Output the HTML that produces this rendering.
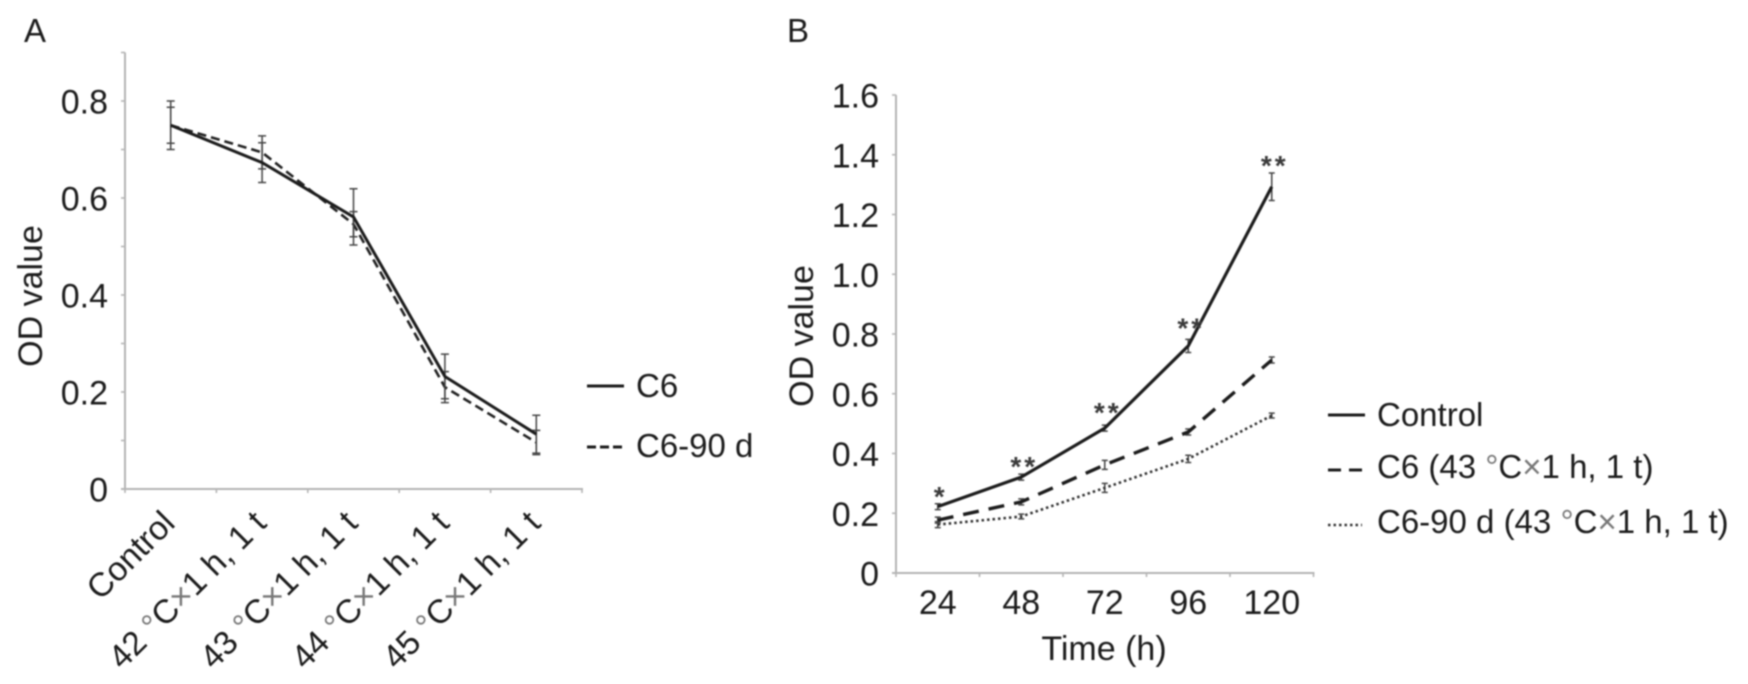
<!DOCTYPE html>
<html lang="en">
<head>
<meta charset="utf-8">
<title>OD value charts</title>
<style>
html,body{margin:0;padding:0;background:#fff;width:1748px;height:684px;overflow:hidden}
svg{display:block;filter:blur(0.7px)}
text{font-family:"Liberation Sans",Arial,sans-serif;fill:#1c1c1c;font-size:33px}
.g{fill:#777}
.big{font-size:34px}
</style>
</head>
<body>
<svg id="figure" xmlns="http://www.w3.org/2000/svg" width="1748" height="684" viewBox="0 0 1748 684">
  <g id="panel-a">
    <text x="24" y="42">A</text>
    <text class="big" transform="translate(42,296) rotate(-90)" text-anchor="middle">OD value</text>
    <g>
      <line x1="587" x2="624" y1="386" y2="386" stroke="#1c1c1c" stroke-width="3"/>
      <text x="636" y="397">C6</text>
      <line x1="587" x2="622" y1="447" y2="447" stroke="#1c1c1c" stroke-width="3" stroke-dasharray="9 4"/>
      <text x="636" y="457">C6-90 d</text>
    </g>
  </g>
  <g id="panel-b">
    <text x="787" y="42">B</text>
    <text class="big" transform="translate(813,336) rotate(-90)" text-anchor="middle">OD value</text>
    <text class="big" x="1104" y="660" text-anchor="middle">Time (h)</text>
    <g>
      <line x1="1328" x2="1365" y1="415" y2="415" stroke="#1c1c1c" stroke-width="3"/>
      <text x="1377" y="426">Control</text>
      <line x1="1328" x2="1362" y1="470" y2="470" stroke="#1c1c1c" stroke-width="3" stroke-dasharray="13 8"/>
      <text x="1377" y="478">C6 (43 <tspan class="g">°</tspan>C<tspan class="g">×</tspan>1 h, 1 t)</text>
      <line x1="1328" x2="1362" y1="525" y2="525" stroke="#333" stroke-width="2.5" stroke-dasharray="2.5 3"/>
      <text x="1377" y="533">C6-90 d (43 <tspan class="g">°</tspan>C<tspan class="g">×</tspan>1 h, 1 t)</text>
    </g>
  </g>
</svg>
<script>
// Panel A data
const aCategories = ['Control', '42 °C×1 h, 1 t', '43 °C×1 h, 1 t', '44 °C×1 h, 1 t', '45 °C×1 h, 1 t'];
const aC6 = [0.75, 0.673, 0.561, 0.232, 0.113];
const aC690 = [0.75, 0.694, 0.546, 0.21, 0.096];
const aC6Err = [0.05, 0.041, 0.058, 0.046, 0.039];
const aC690Err = [0.037, 0.034, 0.026, 0.032, 0.025];
const aTickLabels = ['0', '0.2', '0.4', '0.6', '0.8'];
const aTickValues = [0, 0.2, 0.4, 0.6, 0.8];
const aMinorValues = [0.1, 0.3, 0.5, 0.7, 0.9];

// Panel B data
const bCategories = ['24', '48', '72', '96', '120'];
const bControl = [0.222, 0.321, 0.485, 0.76, 1.293];
const bC6 = [0.177, 0.238, 0.362, 0.472, 0.713];
const bC690 = [0.162, 0.189, 0.285, 0.382, 0.527];
const bControlErr = [0.01, 0.01, 0.01, 0.022, 0.046];
const bC6Err = [0.01, 0.01, 0.015, 0.01, 0.01];
const bC690Err = [0.01, 0.008, 0.015, 0.012, 0.008];
const bTickLabels = ['0', '0.2', '0.4', '0.6', '0.8', '1.0', '1.2', '1.4', '1.6'];
const bTickValues = [0, 0.2, 0.4, 0.6, 0.8, 1.0, 1.2, 1.4, 1.6];
const bStars = ['*', '**', '**', '**', '**'];
const bStarLevels = [0.278, 0.379, 0.559, 0.842, 1.386];

const NS = 'http://www.w3.org/2000/svg';
const AXIS = '#b4b4b4';

// Axis functions
const axA = { left: 125, step: 91.4, zero: 489, unit: 485, cap: 4 };
const axB = { left: 896, step: 83.5, zero: 573, unit: 298.75, cap: 3 };
function xCat(ax, i) { return ax.left + ax.step * (i + 0.5); }
function yVal(ax, v) { return ax.zero - v * ax.unit; }

function make(parent, tag, attrs) {
  const el = document.createElementNS(NS, tag);
  for (const k in attrs) el.setAttribute(k, attrs[k]);
  parent.appendChild(el);
  return el;
}
function fillLabel(el, str) {
  str.split(/([°×])/).forEach(function (part) {
    if (!part) return;
    if (part === '°' || part === '×') {
      const t = document.createElementNS(NS, 'tspan');
      t.setAttribute('class', 'g');
      t.textContent = part;
      el.appendChild(t);
    } else {
      el.appendChild(document.createTextNode(part));
    }
  });
}

function drawAxes(parent, ax, count, tickValues, tickLabels, minorValues, labelX, axisTop) {
  const g = make(parent, 'g', {});
  
  
  const yAxis = make(g, 'line', { x1: ax.left, x2: ax.left, y1: axisTop, y2: ax.zero, stroke: AXIS, 'stroke-width': 2 });
  
  
  const xAxis = make(g, 'line', { x1: ax.left - 4, x2: ax.left + ax.step * count + 1, y1: ax.zero, y2: ax.zero, stroke: AXIS, 'stroke-width': 2 });
  
  
  tickValues.forEach(function (v, i) {
    const y = yVal(ax, v);
    const tick = make(g, 'line', { x1: ax.left - 4, x2: ax.left, y1: y, y2: y, stroke: AXIS, 'stroke-width': 1.6 });
    
    
    const label = make(g, 'text', { x: labelX, y: y + 12.5, 'text-anchor': 'end', class: 'big' });
    
    
    label.textContent = tickLabels[i];
  });
  minorValues.forEach(function (v) {
    const y = yVal(ax, v);
    const tick = make(g, 'line', { x1: ax.left - 4, x2: ax.left, y1: y, y2: y, stroke: AXIS, 'stroke-width': 1.6 });
    
    
  });
  for (let i = 0; i <= count; i++) {
    const x = ax.left + ax.step * i;
    const tick = make(g, 'line', { x1: x, x2: x, y1: ax.zero, y2: ax.zero + 4, stroke: AXIS, 'stroke-width': 1.6 });
    
    
  }
}

function drawSeries(parent, ax, name, values, errors, width, dash, color) {
  const g = make(parent, 'g', {});
  
  
  values.forEach(function (v, i) {
    const x = xCat(ax, i);
    const top = yVal(ax, v + errors[i]);
    const bottom = yVal(ax, v - errors[i]);
    const bar = make(g, 'path', {
      d: 'M' + (x - ax.cap) + ' ' + top + 'H' + (x + ax.cap) + 'M' + x + ' ' + top + 'V' + bottom + 'M' + (x - ax.cap) + ' ' + bottom + 'H' + (x + ax.cap),
      fill: 'none', stroke: '#444', 'stroke-width': 1.5
    });
    
    
  });
  const pts = values.map(function (v, i) { return xCat(ax, i) + ',' + yVal(ax, v); }).join(' ');
  const line = make(g, 'polyline', { points: pts, fill: 'none', stroke: color, 'stroke-width': width, 'stroke-linejoin': 'miter' });
  if (dash) line.setAttribute('stroke-dasharray', dash);
  
  
}

const panelA = document.getElementById('panel-a');
const panelB = document.getElementById('panel-b');

// Panel A
drawAxes(panelA, axA, 5, aTickValues, aTickLabels, aMinorValues, 108, yVal(axA, 0.9));
drawSeries(panelA, axA, 'c6-90d', aC690, aC690Err, 2.6, '9 5', '#222');
drawSeries(panelA, axA, 'c6', aC6, aC6Err, 3, '', '#1c1c1c');
aCategories.forEach(function (c, i) {
  const x = xCat(axA, i) + 6;
  const y = 525;
  const label = make(panelA, 'text', { transform: 'translate(' + x + ',' + y + ') rotate(-45)', 'text-anchor': 'end', style: 'font-size:33.5px' });
  
  
  fillLabel(label, c);
});

// Panel B
drawAxes(panelB, axB, 5, bTickValues, bTickLabels, [], 879, yVal(axB, 1.6));
drawSeries(panelB, axB, 'c6-90d-43', bC690, bC690Err, 2.6, '2.5 3', '#333');
drawSeries(panelB, axB, 'c6-43', bC6, bC6Err, 3.4, '16 10', '#1c1c1c');
drawSeries(panelB, axB, 'control', bControl, bControlErr, 3.2, '', '#1c1c1c');
bCategories.forEach(function (c, i) {
  const label = make(panelB, 'text', { x: xCat(axB, i), y: 614, 'text-anchor': 'middle', class: 'big' });
  
  
  label.textContent = c;
});
bStars.forEach(function (s, i) {
  const star = make(panelB, 'text', {
    x: xCat(axB, i) + 3, y: yVal(axB, bStarLevels[i]) + 16, 'text-anchor': 'middle',
    style: 'font-size:28px;font-weight:bold;letter-spacing:3px;fill:#3a3a3a'
  });
  
  
  star.textContent = s;
});
</script>
</body>
</html>
